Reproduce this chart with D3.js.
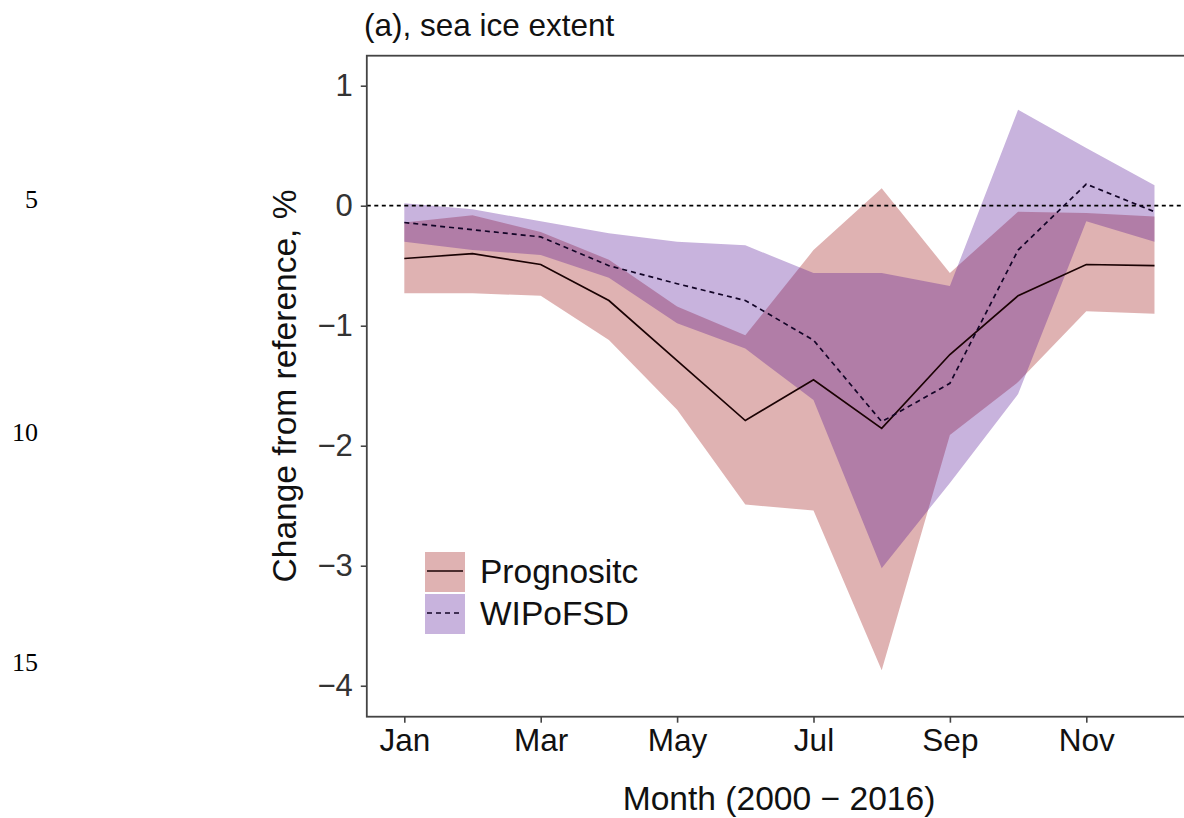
<!DOCTYPE html>
<html>
<head>
<meta charset="utf-8">
<script src="https://cdn.jsdelivr.net/npm/d3@7"></script>
<style>
  html, body { margin: 0; padding: 0; background: #fff; }
  svg { display: block; }
</style>
</head>
<body>
<svg id="chart" width="1184" height="818"></svg>
<script>
// ---- data ----
const months = [1, 2, 3, 4, 5, 6, 7, 8, 9, 10, 11, 12];
const tickMonths = [1, 3, 5, 7, 9, 11];
const tickMonthLabels = ["Jan", "Mar", "May", "Jul", "Sep", "Nov"];
const yTicks = [1, 0, -1, -2, -3, -4];

const progMean  = [-0.44, -0.40, -0.49, -0.79, -1.29, -1.79, -1.45, -1.855, -1.24, -0.75, -0.49, -0.50];
const progUpper = [-0.14, -0.08, -0.22, -0.45, -0.84, -1.08, -0.37, 0.145, -0.56, -0.05, -0.06, -0.09];
const progLower = [-0.73, -0.73, -0.75, -1.12, -1.70, -2.49, -2.54, -3.87, -1.91, -1.47, -0.88, -0.90];

const wipMean  = [-0.14, -0.20, -0.26, -0.50, -0.65, -0.79, -1.12, -1.80, -1.48, -0.37, 0.18, -0.05];
const wipUpper = [0.02, -0.03, -0.13, -0.23, -0.30, -0.33, -0.56, -0.56, -0.67, 0.80, 0.48, 0.17];
const wipLower = [-0.30, -0.37, -0.41, -0.60, -0.98, -1.19, -1.62, -3.02, -2.31, -1.57, -0.13, -0.30];

const seriesNames = ["Prognositc", "WIPoFSD"];
const lineNumbers = [5, 10, 15];

// ---- layout ----
const SANS = "'Liberation Sans', Arial, sans-serif";
const SERIF = "'Liberation Serif', 'Times New Roman', serif";
const svg = d3.select("#chart");
const panel = { left: 366.8, right: 1192, top: 55.7, bottom: 716.7 };

const x = d3.scaleLinear().domain([0.45, 12.55]).range([panel.left, panel.right]);
const y = d3.scaleLinear().domain([-4.258, 1.25]).range([panel.bottom, panel.top]);

const pinkFill = "rgb(148,0,0)", purpleFill = "rgb(72,2,142)", fillOpacity = 0.3;

svg.append("defs").append("clipPath").attr("id", "clip")
  .append("rect")
  .attr("x", panel.left).attr("y", panel.top)
  .attr("width", panel.right - panel.left).attr("height", panel.bottom - panel.top);

const plot = svg.append("g").attr("clip-path", "url(#clip)");

const progData = months.map((m, i) => ({ m, mean: progMean[i], lo: progLower[i], hi: progUpper[i] }));
const wipData = months.map((m, i) => ({ m, mean: wipMean[i], lo: wipLower[i], hi: wipUpper[i] }));

const area = d3.area().x(d => x(d.m)).y0(d => y(d.lo)).y1(d => y(d.hi));
const line = d3.line().x(d => x(d.m)).y(d => y(d.mean));

plot.append("path").datum(progData).attr("d", area)
  .attr("fill", pinkFill).attr("fill-opacity", fillOpacity);
plot.append("path").datum(wipData).attr("d", area)
  .attr("fill", purpleFill).attr("fill-opacity", fillOpacity);

// zero reference line
plot.append("line")
  .attr("x1", panel.left).attr("x2", panel.right)
  .attr("y1", y(0)).attr("y2", y(0))
  .attr("stroke", "#000").attr("stroke-width", 1.8)
  .attr("stroke-dasharray", "4,3.5");

plot.append("path").datum(progData).attr("d", line)
  .attr("fill", "none").attr("stroke", "#1a0203").attr("stroke-width", 1.7);
plot.append("path").datum(wipData).attr("d", line)
  .attr("fill", "none").attr("stroke", "#120426").attr("stroke-width", 1.7)
  .attr("stroke-dasharray", "5,4");

// panel border
svg.append("rect")
  .attr("x", panel.left).attr("y", panel.top)
  .attr("width", panel.right - panel.left).attr("height", panel.bottom - panel.top)
  .attr("fill", "none").attr("stroke", "#444").attr("stroke-width", 1.8);

// axes
const yAxis = d3.axisLeft(y).tickValues(yTicks).tickSize(6).tickPadding(8)
  .tickFormat(d => d < 0 ? "\u2212" + Math.abs(d) : String(d));
const gy = svg.append("g").attr("transform", `translate(${panel.left},0)`).call(yAxis);
gy.select(".domain").remove();
gy.selectAll(".tick line").attr("stroke", "#444").attr("stroke-width", 1.6);
gy.selectAll(".tick text").style("font-size", "31px").attr("fill", "#333")
  .style("font-family", SANS);

const xAxis = d3.axisBottom(x).tickValues(tickMonths).tickSize(6).tickPadding(6)
  .tickFormat((d, i) => tickMonthLabels[i]);
const gx = svg.append("g").attr("transform", `translate(0,${panel.bottom})`).call(xAxis);
gx.select(".domain").remove();
gx.selectAll(".tick line").attr("stroke", "#444").attr("stroke-width", 1.6);
gx.selectAll(".tick text").style("font-size", "31.5px").attr("fill", "#111")
  .style("font-family", SANS);

// titles
svg.append("text").attr("x", 364).attr("y", 36)
  .style("font-family", SANS).style("font-size", "31.5px").attr("fill", "#111")
  .text("(a), sea ice extent");

svg.append("text").attr("x", 779).attr("y", 810)
  .attr("text-anchor", "middle")
  .style("font-family", SANS).style("font-size", "33.6px").attr("fill", "#111")
  .text("Month (2000 \u2212 2016)");

svg.append("text")
  .attr("transform", "translate(296,386) rotate(-90)")
  .attr("text-anchor", "middle")
  .style("font-family", SANS).style("font-size", "33.5px").attr("fill", "#111")
  .text("Change from reference, %");

// legend
const legend = svg.append("g");
const keyFills = [pinkFill, purpleFill];
const keyY = [552, 594];
seriesNames.forEach((name, i) => {
  legend.append("rect").attr("x", 425).attr("y", keyY[i]).attr("width", 40).attr("height", 40)
    .attr("fill", keyFills[i]).attr("fill-opacity", fillOpacity);
  const ln = legend.append("line")
    .attr("x1", 427).attr("x2", 463)
    .attr("y1", keyY[i] + 19).attr("y2", keyY[i] + 19)
    .attr("stroke", i === 0 ? "#1a0203" : "#120426").attr("stroke-width", 1.7);
  if (i === 1) ln.attr("stroke-dasharray", "5,4");
  legend.append("text").attr("x", 480).attr("y", keyY[i] + 31)
    .style("font-family", SANS).style("font-size", "33.5px").attr("fill", "#111")
    .text(name);
});

// manuscript line numbers in the left margin
const lineNumY = [208, 441, 671];
lineNumbers.forEach((n, i) => {
  svg.append("text").attr("x", 38).attr("y", lineNumY[i])
    .attr("text-anchor", "end")
    .style("font-family", SERIF)
    .style("font-size", "26px").attr("fill", "#000").text(n);
});
</script>
</body>
</html>
